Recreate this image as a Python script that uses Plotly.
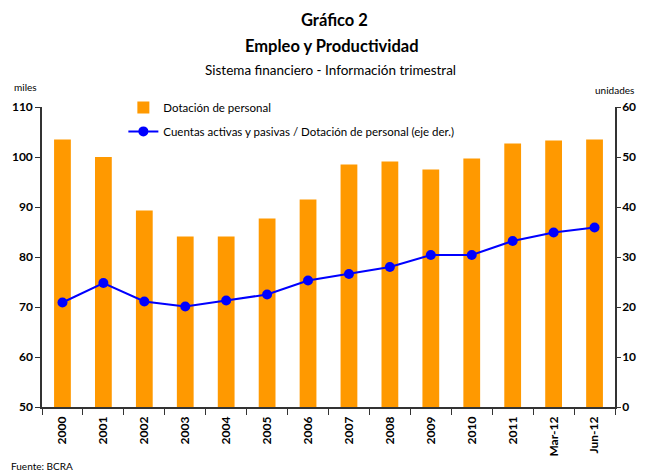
import plotly.graph_objects as go

categories = ["2000", "2001", "2002", "2003", "2004", "2005", "2006", "2007",
              "2008", "2009", "2010", "2011", "Mar-12", "Jun-12"]
dotacion = [103.5, 100.0, 89.3, 84.1, 84.1, 87.7, 91.5, 98.5, 99.1, 97.5, 99.7, 102.7, 103.3, 103.5]
cuentas = [20.9, 24.8, 21.1, 20.1, 21.3, 22.5, 25.3, 26.6, 28.0, 30.4, 30.4, 33.2, 34.9, 35.9]
left_ticks = [50, 60, 70, 80, 90, 100, 110]
right_ticks = [0, 10, 20, 30, 40, 50, 60]

FONT = "Lato, 'Open Sans', sans-serif"
AX = "#333333"

# the page body has an 8px margin: figure is drawn from (8, 8) in the window
OFF = 8
FW, FH = 645 - 2 * OFF, 475 - OFF

fig = go.Figure()
fig.add_trace(go.Bar(x=categories, y=dotacion, name="Dotación de personal", legendgroup="a",
                     marker=dict(color="#FF9900", line=dict(width=0)), yaxis="y"))
fig.add_trace(go.Scatter(x=categories, y=cuentas, legendgroup="b",
                         name="Cuentas activas y pasivas / Dotación de personal (eje der.)",
                         mode="lines+markers", yaxis="y2",
                         line=dict(color="#0000FF", width=2),
                         marker=dict(color="#0000FF", size=10)))

tickfont = dict(size=12, family="Lato, sans-serif", color="#000", weight="bold")

pl, pr, pt, pb = 42 - OFF, 615 - OFF, 107 - OFF, 407 - OFF
W, H = pr - pl, pb - pt

fig.update_layout(
    width=FW, height=FH,
    margin=dict(l=pl, r=FW - pr, t=pt, b=FH - pb, autoexpand=False),
    paper_bgcolor="white", plot_bgcolor="white",
    font=dict(family=FONT, color="#000000", size=11),
    bargap=0.59,
    showlegend=True,
    legend=dict(x=0.142, y=1.047, xanchor="left", yanchor="top", bgcolor="rgba(0,0,0,0)",
                font=dict(size=11.5, family=FONT), tracegroupgap=5, itemwidth=30),
    xaxis=dict(type="category", showline=True, linecolor=AX, linewidth=1.5, automargin=False,
               ticks="outside", tickson="boundaries", ticklen=6, tickcolor=AX,
               tickangle=-90, tickfont=tickfont, ticklabelstandoff=3,
               showgrid=False, range=[-0.5, 13.5]),
    yaxis=dict(range=[50, 110], tickvals=left_ticks, showline=True, linecolor=AX, linewidth=1.5,
               ticks="outside", ticklen=5, tickcolor=AX, showgrid=False, zeroline=False,
               automargin=False, tickfont=tickfont),
    yaxis2=dict(range=[0, 60], tickvals=right_ticks, overlaying="y", side="right",
                showline=True, linecolor=AX, linewidth=1.5, ticks="outside", ticklen=4,
                tickcolor=AX, showgrid=False, zeroline=False, automargin=False,
                tickfont=tickfont, ticklabelstandoff=-1),
)

specs = [
    ("<b>Gráfico 2</b>", 334, 20, 16.5, "center"),
    ("<b>Empleo y Productividad</b>", 332, 46, 16.5, "center"),
    ("Sistema financiero - Información trimestral", 330, 70, 13.5, "center"),
    ("miles", 12, 87, 10, "left"),
    ("unidades", 636, 90, 10, "right"),
    ("Fuente: BCRA", 9, 466, 10, "left"),
]
anns = []
for text, px, py, size, anchor in specs:
    fx, fy = px - OFF, py - OFF
    anns.append(dict(text=text, x=(fx - pl) / W, y=(pb - fy) / H, xref="paper", yref="paper",
                     showarrow=False, xanchor=anchor, yanchor="middle",
                     font=dict(size=size, family=FONT, color="#000")))
fig.update_layout(annotations=anns)

fig.write_html("out.html")
